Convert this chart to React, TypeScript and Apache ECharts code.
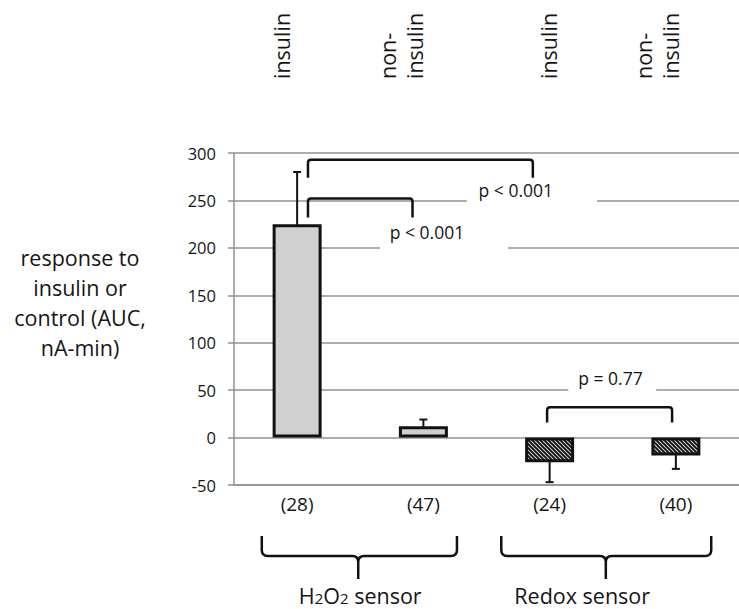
import React, { useEffect, useRef } from "react";
import * as echarts from "echarts";

// ---- data ----
const categories = ["(28)", "(47)", "(24)", "(40)"];
const groupLabels = ["insulin", "non-\ninsulin", "insulin", "non-\ninsulin"];
const values = [225, 12, -26, -19];
const errors = [55, 7, 21, 14];
const sensorLabels = ["H{s|2}O{s|2} sensor", "Redox sensor"];
const pTexts = ["p < 0.001", "p < 0.001", "p = 0.77"];
const yMin = -50;
const yMax = 300;
const yStep = 50;
const yTitle = "response to\ninsulin or\ncontrol (AUC,\nnA-min)";

// ---- annotation layout (in axis units of the hidden value x-axis / y-axis) ----
const bracketSpans = [
  [0.086, 1.867, 293, 274],
  [0.086, 0.914, 252, 232],
  [1.98, 2.97, 32, 16],
];
const pLabelPos = [
  [1.4375, 261, 1.344, 2.375],
  [0.734, 217, 0.656, 1.672],
  [2.227, 62.6, 2.148, 2.844],
];
const topLabelX = [-0.125, 0.824, 1.992, 2.85];
const braceSpans = [
  [-0.28, 1.266, 0.484, 0.5],
  [1.617, 3.28, 2.445, 2.258],
];

const FONT = "'Open Sans', sans-serif";
const INK = "#111111";
const TXT = "#151515";
const GRID = "#929292";

export default function App() {
  const ref = useRef<HTMLDivElement>(null);
  useEffect(() => {
    document.body.style.margin = "0";
    const el = ref.current!;
    const chart = echarts.init(el, null, { renderer: "svg" });

    const cv = document.createElement("canvas");
    cv.width = 4;
    cv.height = 4;
    const ctx = cv.getContext("2d")!;
    ctx.fillStyle = "#d4d4d4";
    ctx.fillRect(0, 0, 4, 4);
    ctx.strokeStyle = "#111111";
    ctx.lineWidth = 1.9;
    ctx.beginPath();
    ctx.moveTo(-1, -1);
    ctx.lineTo(5, 5);
    ctx.moveTo(-1, 3);
    ctx.lineTo(1, 5);
    ctx.moveTo(3, -1);
    ctx.lineTo(5, 1);
    ctx.stroke();
    const hatch: any = { image: cv, repeat: "repeat" };

    const option: any = {
      animation: false,
      backgroundColor: "#ffffff",
      grid: { left: 234, top: 153, width: 512, height: 332 },
      xAxis: [
        {
          type: "category",
          data: categories,
          axisLine: { onZero: false, lineStyle: { color: GRID, width: 1.5 } },
          axisTick: { show: false },
          axisLabel: { fontSize: 19, fontFamily: FONT, color: TXT, margin: 9 },
          splitLine: { show: false },
        },
        { type: "value", min: -0.5, max: 3.5, show: false },
      ],
      yAxis: {
        type: "value",
        min: yMin,
        max: yMax,
        interval: yStep,
        axisLine: { show: true, onZero: false, lineStyle: { color: GRID, width: 1.5 } },
        axisTick: { show: true, length: 6, lineStyle: { color: GRID, width: 1.5 } },
        axisLabel: { fontSize: 16.5, fontFamily: FONT, color: TXT, margin: 18 },
        splitLine: { lineStyle: { color: GRID, width: 1.5 } },
      },
      graphic: [
        {
          type: "text",
          x: 80,
          y: 302,
          style: {
            text: yTitle,
            fontSize: 21.5,
            fontFamily: FONT,
            fill: TXT,
            align: "center",
            verticalAlign: "middle",
            lineHeight: 30,
          },
        },
      ],
      series: [
        {
          type: "bar",
          xAxisIndex: 0,
          yAxisIndex: 0,
          barWidth: 49,
          data: values.map((v, i) => ({
            value: v,
            itemStyle: { color: i < 2 ? "#d0d0d0" : hatch },
          })),
          itemStyle: { borderColor: INK, borderWidth: 3 },
        },
        {
          type: "custom",
          xAxisIndex: 0,
          yAxisIndex: 0,
          clip: false,
          data: values.map((v, i) => [i, v - errors[i], v + errors[i]]),
          renderItem: (params: any, api: any) => {
            const lo = api.coord([api.value(0), api.value(1)]);
            const hi = api.coord([api.value(0), api.value(2)]);
            const x = lo[0];
            const st = { stroke: INK, lineWidth: 2 };
            return {
              type: "group",
              children: [
                { type: "line", shape: { x1: x, y1: lo[1], x2: x, y2: hi[1] }, style: st },
                { type: "line", shape: { x1: x - 4, y1: lo[1], x2: x + 4, y2: lo[1] }, style: st },
                { type: "line", shape: { x1: x - 4, y1: hi[1], x2: x + 4, y2: hi[1] }, style: st },
              ],
            };
          },
        },
        {
          type: "custom",
          xAxisIndex: 1,
          yAxisIndex: 0,
          clip: false,
          z: 3,
          data: pLabelPos.map((p, i) => [p[0], p[1], p[2], p[3], i]),
          renderItem: (params: any, api: any) => {
            const t = api.coord([api.value(0), api.value(1)]);
            const b1 = api.coord([api.value(2), api.value(1)]);
            const b2 = api.coord([api.value(3), api.value(1)]);
            return {
              type: "group",
              children: [
                {
                  type: "rect",
                  shape: { x: b1[0], y: t[1] - 10, width: b2[0] - b1[0], height: 28 },
                  style: { fill: "#ffffff" },
                },
                {
                  type: "text",
                  x: t[0],
                  y: t[1],
                  style: {
                    text: pTexts[api.value(4)],
                    fontSize: 17.5,
                    fontFamily: FONT,
                    fill: TXT,
                    align: "left",
                    verticalAlign: "middle",
                  },
                },
              ],
            };
          },
        },
        {
          type: "custom",
          xAxisIndex: 1,
          yAxisIndex: 0,
          clip: false,
          z: 4,
          data: bracketSpans,
          renderItem: (params: any, api: any) => {
            const a = api.coord([api.value(0), api.value(2)]);
            const b = api.coord([api.value(1), api.value(3)]);
            const r = 3;
            const d = `M${a[0]} ${b[1]} L${a[0]} ${a[1] + r} Q${a[0]} ${a[1]} ${a[0] + r} ${a[1]} L${b[0] - r} ${a[1]} Q${b[0]} ${a[1]} ${b[0]} ${a[1] + r} L${b[0]} ${b[1]}`;
            return {
              type: "path",
              shape: { pathData: d },
              style: { stroke: INK, lineWidth: 2.5, fill: "none" },
            };
          },
        },
        {
          type: "custom",
          xAxisIndex: 1,
          yAxisIndex: 0,
          clip: false,
          data: braceSpans.map((b, i) => [b[0], b[1], b[2], b[3], i]),
          renderItem: (params: any, api: any) => {
            const base = api.coord([api.value(0), yMin])[1];
            const x1 = api.coord([api.value(0), yMin])[0];
            const x2 = api.coord([api.value(1), yMin])[0];
            const xm = api.coord([api.value(2), yMin])[0];
            const xl = api.coord([api.value(3), yMin])[0];
            const yt = base + 51;
            const yh = base + 71;
            const yb = base + 94;
            const r = 6;
            const d =
              `M${x1} ${yt} L${x1} ${yh - r} Q${x1} ${yh} ${x1 + r} ${yh} L${xm - r} ${yh} Q${xm} ${yh} ${xm} ${yh + r} L${xm} ${yb}` +
              ` M${xm} ${yh + r} Q${xm} ${yh} ${xm + r} ${yh} L${x2 - r} ${yh} Q${x2} ${yh} ${x2} ${yh - r} L${x2} ${yt}`;
            return {
              type: "group",
              children: [
                { type: "path", shape: { pathData: d }, style: { stroke: INK, lineWidth: 2.5, fill: "none" } },
                {
                  type: "text",
                  x: xl,
                  y: base + 110,
                  style: {
                    text: sensorLabels[api.value(4)],
                    fontSize: 21.5,
                    fontFamily: FONT,
                    fill: TXT,
                    align: "center",
                    verticalAlign: "middle",
                    rich: { s: { fontSize: 15, fontFamily: FONT, fill: TXT, padding: [6, 0, 0, 0] } },
                  },
                },
              ],
            };
          },
        },
        {
          type: "custom",
          xAxisIndex: 1,
          yAxisIndex: 0,
          clip: false,
          data: topLabelX.map((x, i) => [x, i]),
          renderItem: (params: any, api: any) => {
            const p = api.coord([api.value(0), yMax]);
            return {
              type: "text",
              x: p[0],
              y: p[1] - 74,
              rotation: Math.PI / 2,
              style: {
                text: groupLabels[api.value(1)],
                fontSize: 21.5,
                fontFamily: FONT,
                fill: TXT,
                align: "left",
                verticalAlign: "middle",
                lineHeight: 27,
              },
            };
          },
        },
      ],
    };
    chart.setOption(option);
    return () => chart.dispose();
  }, []);
  return <div ref={ref} style={{ position: "fixed", left: 0, top: 0, width: 739, height: 609 }} />;
}
